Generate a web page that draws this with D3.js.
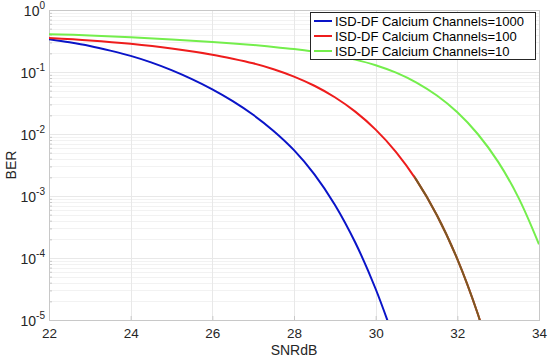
<!DOCTYPE html>
<html>
<head>
<meta charset="utf-8">
<script src="https://cdn.jsdelivr.net/npm/d3@7"></script>
<style>
  body { margin: 0; background: #fff; }
  svg { display: block; font-family: 'Liberation Sans', Arial, sans-serif; }
</style>
</head>
<body>
<svg id="chart" width="550" height="358"></svg>
<script>
// data: SNR (dB) and log10(BER)
const snrBlue = [22, 22.5, 23, 23.5, 24, 24.5, 25, 25.5, 26, 26.5, 27, 27.5, 28, 28.5, 29, 29.5, 30, 30.5]
const logBerBlue = [-0.47, -0.52, -0.58, -0.655, -0.74, -0.845, -0.97, -1.115, -1.28, -1.47, -1.69, -1.95, -2.26, -2.65, -3.14, -3.75, -4.5, -5.4]

const snrRed = [22, 23, 24, 25, 26, 26.5, 27, 27.5, 28, 28.5, 29, 29.5, 30, 30.5, 31, 31.5, 32, 32.5, 33]
const logBerRed = [-0.45, -0.49, -0.545, -0.62, -0.72, -0.785, -0.86, -0.955, -1.074, -1.222, -1.407, -1.639, -1.929, -2.291, -2.744, -3.31, -4.017, -4.9, -6.0]

const snrGreen = [22, 23, 24, 25, 26, 27, 27.5, 28, 28.5, 29, 29.5, 30, 30.5, 31, 31.5, 32, 32.5, 33, 33.5, 34]
const logBerGreen = [-0.39, -0.41, -0.44, -0.475, -0.515, -0.565, -0.595, -0.63, -0.675, -0.73, -0.8, -0.89, -1.01, -1.17, -1.38, -1.65, -2.0, -2.45, -3.03, -3.78]

const seriesNames = [
  'ISD-DF Calcium Channels=1000',
  'ISD-DF Calcium Channels=100',
  'ISD-DF Calcium Channels=10',
]
const xTicks = [22, 24, 26, 28, 30, 32, 34]
const yExponents = [0, -1, -2, -3, -4, -5]

const width = 550
const height = 358
const margin = { top: 10, right: 11, bottom: 38, left: 49 }

const colors = ['#0a14c8', '#ee1c1c', '#74ee4c']
const brown = '#7a5a22'

const svg = d3.select('#chart')

const x = d3
  .scaleLinear()
  .domain([22, 34])
  .range([margin.left, width - margin.right])

const y = d3
  .scaleLog()
  .domain([1e-5, 1])
  .range([height - margin.bottom, margin.top])

const plotW = width - margin.right - margin.left
const plotH = height - margin.bottom - margin.top

// clip path for the curves
svg
  .append('clipPath')
  .attr('id', 'plotClip')
  .append('rect')
  .attr('x', margin.left)
  .attr('y', margin.top)
  .attr('width', plotW)
  .attr('height', plotH)

// minor grid (log decades)
const minorVals = []
for (let e = -5; e < 0; e++) {
  for (let k = 2; k <= 9; k++) minorVals.push(k * Math.pow(10, e))
}
svg
  .append('g')
  .attr('id', 'minorGrid')
  .selectAll('line')
  .data(minorVals)
  .join('line')
  .attr('x1', margin.left)
  .attr('x2', width - margin.right)
  .attr('y1', (d) => Math.round(y(d)) + 0.5)
  .attr('y2', (d) => Math.round(y(d)) + 0.5)
  .attr('stroke', '#f2f2f2')
  .attr('stroke-width', 1)

// major grid
const grid = svg.append('g').attr('id', 'grid')
grid
  .selectAll('line.gx')
  .data(xTicks)
  .join('line')
  .attr('class', 'gx')
  .attr('x1', (d) => Math.round(x(d)) + 0.5)
  .attr('x2', (d) => Math.round(x(d)) + 0.5)
  .attr('y1', margin.top)
  .attr('y2', height - margin.bottom)
  .attr('stroke', '#e8e8e8')
grid
  .selectAll('line.gy')
  .data(yExponents)
  .join('line')
  .attr('class', 'gy')
  .attr('x1', margin.left)
  .attr('x2', width - margin.right)
  .attr('y1', (d) => Math.round(y(Math.pow(10, d))) + 0.5)
  .attr('y2', (d) => Math.round(y(Math.pow(10, d))) + 0.5)
  .attr('stroke', '#e8e8e8')

// box
svg
  .append('rect')
  .attr('x', margin.left + 0.5)
  .attr('y', margin.top + 0.5)
  .attr('width', plotW)
  .attr('height', plotH)
  .attr('fill', 'none')
  .attr('stroke', '#c8c8c8')

// x axis
const xAxis = svg
  .append('g')
  .attr('id', 'xAxis')
  .attr('transform', `translate(0,${height - margin.bottom})`)
  .call(d3.axisBottom(x).tickValues(xTicks).tickSize(-4).tickSizeOuter(0).tickPadding(8))
xAxis.select('.domain').attr('stroke', '#c8c8c8')
xAxis.selectAll('.tick line').attr('stroke', '#c8c8c8')
xAxis
  .selectAll('.tick text')
  .attr('font-size', 13.5)
  .attr('fill', '#262626')
  .attr('font-family', 'Liberation Sans, Arial, sans-serif')

// y axis with minor ticks
const yAxis = svg
  .append('g')
  .attr('id', 'yAxis')
  .attr('transform', `translate(${margin.left},0)`)
  .call(
    d3
      .axisLeft(y)
      .tickValues(minorVals)
      .tickSize(-3)
      .tickSizeOuter(0)
      .tickFormat('')
  )
yAxis.select('.domain').attr('stroke', '#c8c8c8')
yAxis.selectAll('.tick line').attr('stroke', '#c8c8c8')

// y tick labels 10^n
const yLabels = svg
  .append('g')
  .attr('id', 'yLabels')
  .selectAll('text')
  .data(yExponents)
  .join('text')
  .attr('x', margin.left - 4)
  .attr('y', (d) => y(Math.pow(10, d)) + 6)
  .attr('text-anchor', 'end')
  .attr('font-size', 14)
  .attr('fill', '#262626')
yLabels.append('tspan').text('10')
yLabels
  .append('tspan')
  .attr('dy', -7)
  .attr('font-size', 10)
  .text((d) => d)

// axis titles
svg
  .append('text')
  .attr('x', x(28))
  .attr('y', 355)
  .attr('text-anchor', 'middle')
  .attr('font-size', 14)
  .attr('fill', '#262626')
  .text('SNRdB')

svg
  .append('text')
  .attr('transform', `translate(16,${(margin.top + height - margin.bottom) / 2}) rotate(-90)`)
  .attr('text-anchor', 'middle')
  .attr('font-size', 14)
  .attr('fill', '#262626')
  .text('BER')

// curves
const line = d3
  .line()
  .x((d) => x(d[0]))
  .y((d) => y(Math.pow(10, d[1])))
  .curve(d3.curveCatmullRom.alpha(0.5))

const series = [
  d3.zip(snrBlue, logBerBlue),
  d3.zip(snrRed, logBerRed),
  d3.zip(snrGreen, logBerGreen),
]

const curves = svg.append('g').attr('id', 'viz').attr('clip-path', 'url(#plotClip)')

curves
  .selectAll('path.curve')
  .data(series)
  .join('path')
  .attr('class', 'curve')
  .attr('d', (d) => line(d))
  .attr('fill', 'none')
  .attr('stroke', (d, i) => colors[i])
  .attr('stroke-width', 2)

// lower part of the red curve is drawn brownish in the original
curves
  .append('clipPath')
  .attr('id', 'brownClip')
  .append('rect')
  .attr('x', x(30.95))
  .attr('y', margin.top)
  .attr('width', width)
  .attr('height', plotH)
curves
  .append('path')
  .attr('d', line(series[1]))
  .attr('fill', 'none')
  .attr('stroke', brown)
  .attr('stroke-width', 2)
  .attr('clip-path', 'url(#brownClip)')

// legend
const legend = svg.append('g').attr('id', 'legend')
legend
  .append('rect')
  .attr('x', 310.5)
  .attr('y', 12.5)
  .attr('width', 225)
  .attr('height', 47)
  .attr('fill', '#fff')
  .attr('stroke', '#262626')
  .attr('stroke-width', 1)

const items = legend
  .selectAll('g.item')
  .data(seriesNames)
  .join('g')
  .attr('class', 'item')
  .attr('transform', (d, i) => `translate(0,${21 + i * 15})`)
items
  .append('line')
  .attr('x1', 314)
  .attr('x2', 332)
  .attr('stroke', (d, i) => colors[i])
  .attr('stroke-width', 2)
items
  .append('text')
  .attr('x', 335)
  .attr('y', 5)
  .attr('font-size', 13)
  .attr('fill', '#000')
  .text((d) => d)
</script>
</body>
</html>
